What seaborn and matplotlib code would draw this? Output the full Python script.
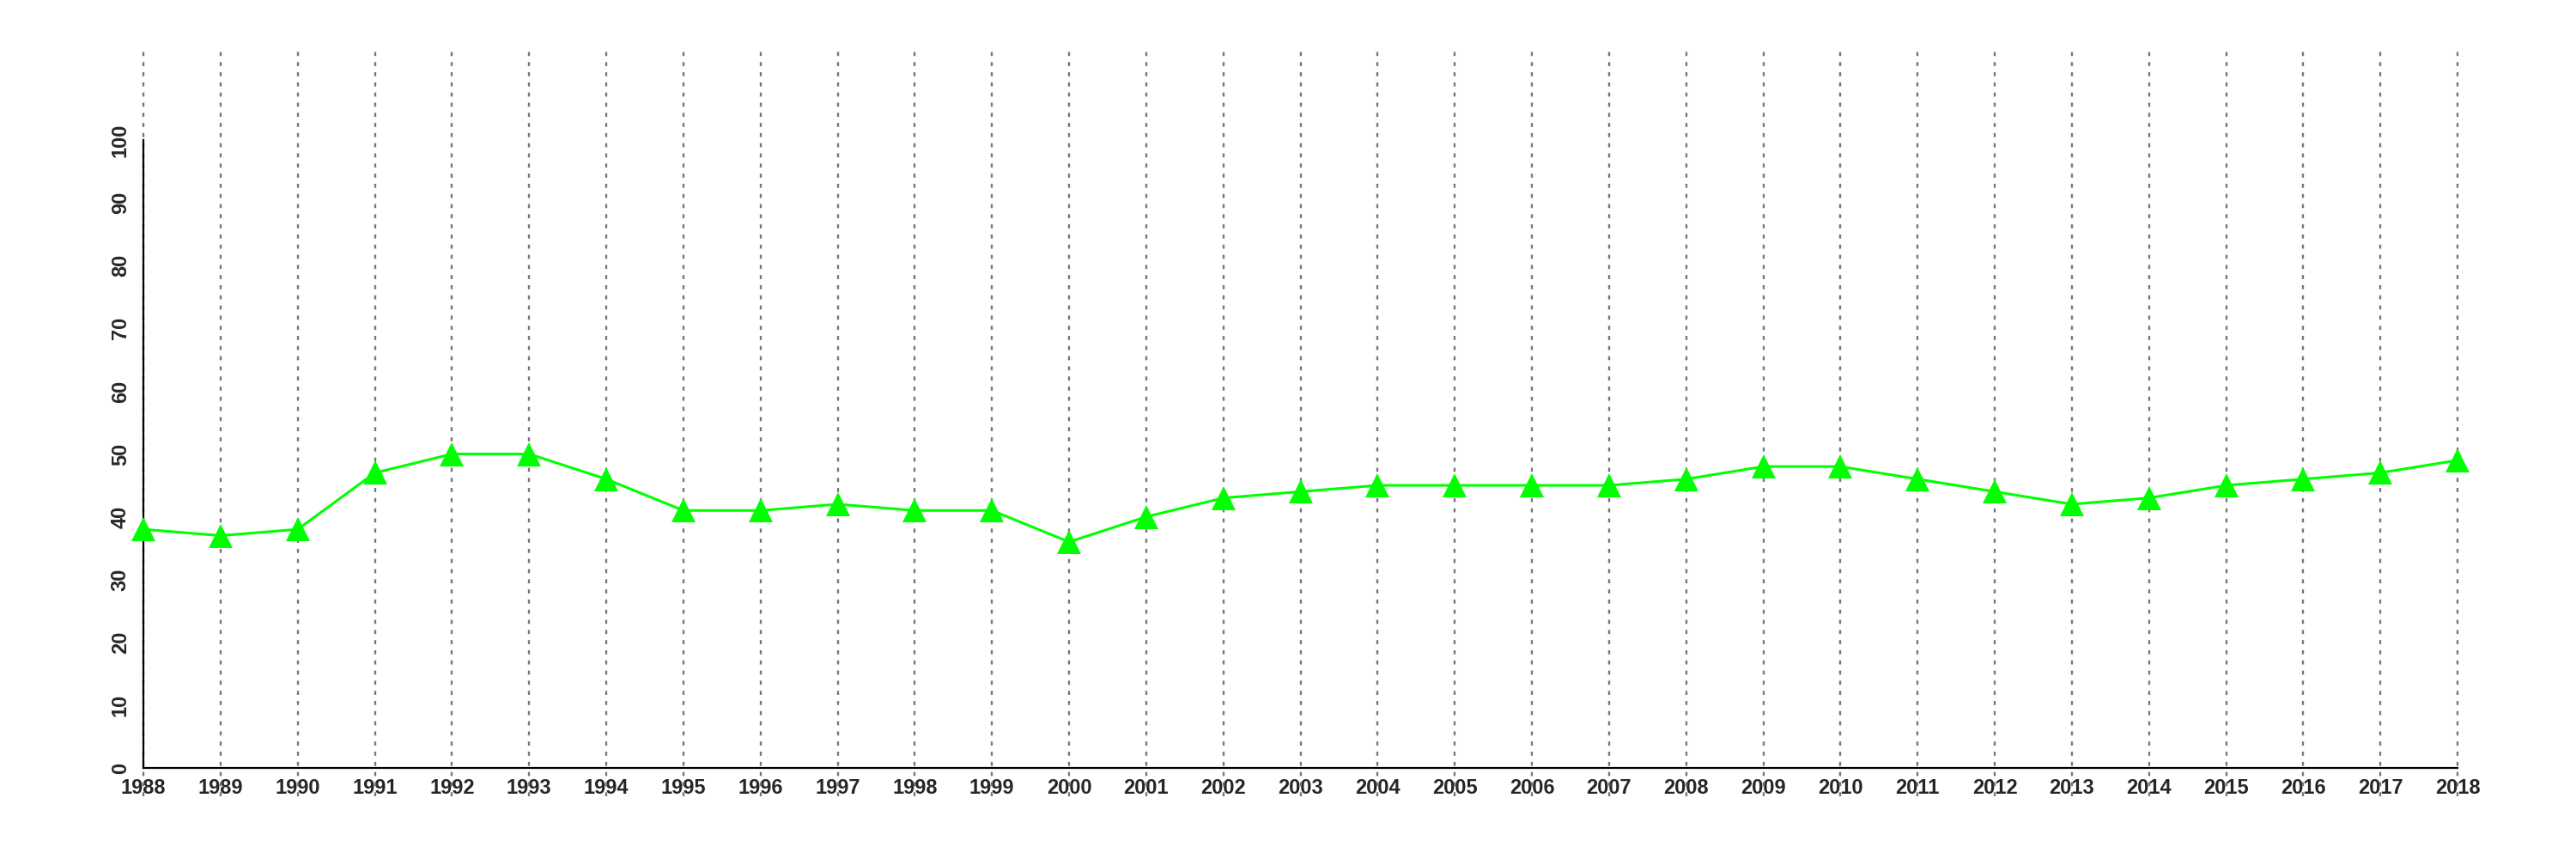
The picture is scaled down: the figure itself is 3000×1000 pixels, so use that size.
import numpy as np
import pandas as pd
import seaborn as sns
import matplotlib.pyplot as plt
import matplotlib.transforms as mtransforms

years = list(range(1988, 2019))
values = [38, 37, 38, 47, 50, 50, 46, 41, 41, 42, 41, 41, 36, 40, 43, 44,
          45, 45, 45, 45, 46, 48, 48, 46, 44, 42, 43, 45, 46, 47, 49]
y_ticks = list(range(0, 101, 10))

df = pd.DataFrame({'year': years, 'value': values})

sns.set_style('white')
plt.rcParams['font.family'] = ['Liberation Sans', 'DejaVu Sans']
plt.rcParams['font.weight'] = 'bold'

fig = plt.figure(figsize=(30, 10), dpi=100)
ax = fig.add_axes([0.0557, 0.106, 0.8983, 0.731])

# dotted year guides that run past the plotting region
trans = mtransforms.blended_transform_factory(ax.transData, ax.transAxes)
ax.vlines(years, -0.045, 1.141, transform=trans, colors='#777777',
          linewidth=1.7, linestyles=(0, (2.0, 3.0)), clip_on=False, zorder=1)

sns.lineplot(data=df, x='year', y='value', ax=ax, color='#00ff00',
             linewidth=2.2, marker='^', markersize=20, markeredgewidth=0,
             zorder=3, clip_on=False)

ax.set_xlim(1988, 2018)
ax.set_ylim(0, 100)
ax.set_xticks(years)
ax.set_xticklabels([str(y) for y in years], fontsize=17, fontweight='bold')
ax.set_yticks(y_ticks)
ax.set_yticklabels([str(v) for v in y_ticks], fontsize=17, fontweight='bold',
                   rotation=90, va='center')
ax.set_xlabel('')
ax.set_ylabel('')
ax.tick_params(axis='both', direction='out', length=7, width=1.6, pad=2)
ax.tick_params(axis='y', pad=4)

for s in ['top', 'right']:
    ax.spines[s].set_visible(False)
for s in ['left', 'bottom']:
    ax.spines[s].set_linewidth(1.6)
    ax.spines[s].set_color('black')

fig.savefig('out.png', dpi=100, facecolor='white')
